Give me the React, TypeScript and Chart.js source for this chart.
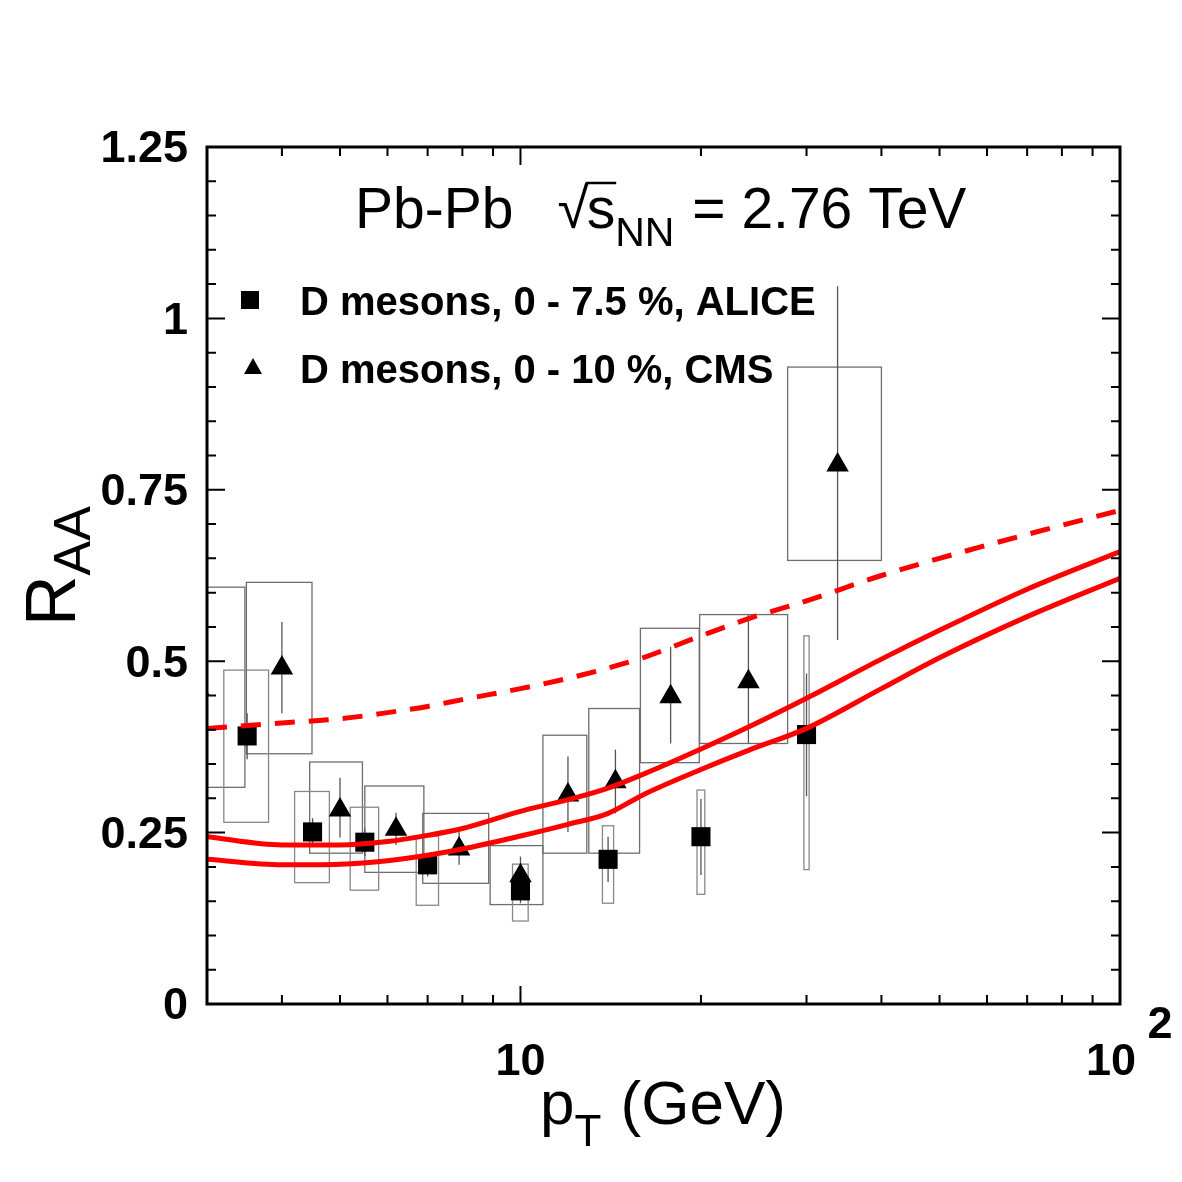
import React, { useEffect, useRef } from "react";
import { Chart, registerables } from "chart.js";

Chart.register(...registerables);

// ALICE D mesons, 0-7.5 %
const aliceX = [3.5, 4.5, 5.5, 7, 10, 14, 20, 30];
const aliceY = [0.391, 0.251, 0.236, 0.203, 0.165, 0.211, 0.244, 0.393];
const aliceStatLo = [0.357, 0.231, 0.216, 0.186, 0.147, 0.178, 0.188, 0.303];
const aliceStatHi = [0.424, 0.271, 0.256, 0.22, 0.183, 0.244, 0.299, 0.482];
const aliceSysLo = [0.265, 0.177, 0.166, 0.144, 0.121, 0.147, 0.16, 0.196];
const aliceSysHi = [0.487, 0.31, 0.287, 0.245, 0.204, 0.26, 0.312, 0.537];
const aliceBoxHalfWidth = 0.3;

// CMS D mesons, 0-10 %
const cmsX = [2.9, 4, 5, 6.2, 7.9, 10, 12, 14.4, 17.8, 24, 33.8];
const cmsY = [0.46, 0.49, 0.283, 0.255, 0.226, 0.187, 0.305, 0.324, 0.448, 0.47, 0.786];
const cmsStatLo = [0.41, 0.424, 0.243, 0.232, 0.203, 0.165, 0.251, 0.278, 0.38, 0.38, 0.531];
const cmsStatHi = [0.51, 0.557, 0.33, 0.279, 0.251, 0.215, 0.361, 0.371, 0.521, 0.568, 1.047];
const cmsSysLo = [0.316, 0.365, 0.22, 0.192, 0.176, 0.145, 0.22, 0.22, 0.352, 0.38, 0.647];
const cmsSysHi = [0.608, 0.615, 0.353, 0.318, 0.278, 0.231, 0.392, 0.431, 0.548, 0.568, 0.929];
const cmsBoxLo = [2.5, 3.49, 4.45, 5.5, 6.87, 8.9, 10.9, 13.0, 15.85, 19.9, 27.9];
const cmsBoxHi = [3.47, 4.49, 5.45, 6.9, 8.85, 10.9, 12.9, 15.8, 19.87, 27.9, 40.0];

// Model curves
const curvePt = [3, 4, 5, 6, 7, 8, 10, 12, 14, 16, 20, 24, 30, 40, 50, 70, 100];
const curveDashed = [0.402, 0.41, 0.416, 0.425, 0.434, 0.444, 0.46, 0.475, 0.49, 0.505, 0.537, 0.562, 0.588, 0.625, 0.65, 0.685, 0.72];
const curveUpper = [0.244, 0.232, 0.232, 0.237, 0.246, 0.256, 0.281, 0.298, 0.315, 0.335, 0.372, 0.404, 0.446, 0.503, 0.545, 0.605, 0.66];
const curveLower = [0.211, 0.203, 0.204, 0.209, 0.217, 0.226, 0.245, 0.262, 0.278, 0.305, 0.342, 0.37, 0.402, 0.46, 0.505, 0.565, 0.621];

// Axes
const xMin = 3;
const xMax = 100;
const yMin = 0;
const yMax = 1.25;
const xMajorTicks = [10, 100];
const xMinorTicks = [4, 5, 6, 7, 8, 9, 20, 30, 40, 50, 60, 70, 80, 90];
const yMajorTicks = [0, 0.25, 0.5, 0.75, 1, 1.25];
const yMinorTicks = [
  0.05, 0.1, 0.15, 0.2, 0.3, 0.35, 0.4, 0.45, 0.55, 0.6, 0.65, 0.7,
  0.8, 0.85, 0.9, 0.95, 1.05, 1.1, 1.15, 1.2,
];
const yTickLabels = ["0", "0.25", "0.5", "0.75", "1", "1.25"];

const legendLabels = ["D mesons, 0 - 7.5 %, ALICE", "D mesons, 0 - 10 %, CMS"];

const FONT = "'Liberation Sans', Arial, Helvetica, sans-serif";

function text(
  ctx: CanvasRenderingContext2D,
  s: string,
  x: number,
  y: number,
  size: number,
  bold: boolean,
  align: "left" | "right" | "center" = "left",
  baseline: CanvasTextBaseline = "alphabetic"
): number {
  ctx.save();
  ctx.font = `${bold ? "bold " : ""}${size}px ${FONT}`;
  ctx.textBaseline = baseline;
  ctx.textAlign = align;
  ctx.fillStyle = "#000";
  ctx.fillText(s, x, y);
  const w = ctx.measureText(s).width;
  ctx.restore();
  return w;
}

const errorPlugin = {
  id: "errorBoxes",
  beforeDatasetsDraw(chart: any) {
    const { ctx, chartArea: a } = chart;
    const xs = chart.scales.x;
    const ys = chart.scales.y;
    ctx.save();
    ctx.beginPath();
    ctx.rect(a.left, a.top, a.right - a.left, a.bottom - a.top);
    ctx.clip();
    const box = (x0: number, x1: number, y0: number, y1: number, color: string) => {
      const px0 = xs.getPixelForValue(x0);
      const px1 = xs.getPixelForValue(x1);
      const py0 = ys.getPixelForValue(y0);
      const py1 = ys.getPixelForValue(y1);
      ctx.strokeStyle = color;
      ctx.lineWidth = 1.3;
      ctx.strokeRect(px0, py1, px1 - px0, py0 - py1);
    };
    const bar = (x: number, y0: number, y1: number) => {
      const px = xs.getPixelForValue(x);
      ctx.strokeStyle = "#555";
      ctx.lineWidth = 1.3;
      ctx.beginPath();
      ctx.moveTo(px, ys.getPixelForValue(y0));
      ctx.lineTo(px, ys.getPixelForValue(y1));
      ctx.stroke();
    };
    cmsX.forEach((x, i) => box(cmsBoxLo[i], cmsBoxHi[i], cmsSysLo[i], cmsSysHi[i], "#6e6e6e"));
    aliceX.forEach((x, i) =>
      box(x - aliceBoxHalfWidth, x + aliceBoxHalfWidth, aliceSysLo[i], aliceSysHi[i], "#888")
    );
    cmsX.forEach((x, i) => bar(x, cmsStatLo[i], cmsStatHi[i]));
    aliceX.forEach((x, i) => bar(x, aliceStatLo[i], aliceStatHi[i]));
    ctx.restore();
  },
};

const framePlugin = {
  id: "frame",
  afterDraw(chart: any) {
    const { ctx, chartArea: a } = chart;
    const xs = chart.scales.x;
    const ys = chart.scales.y;
    ctx.save();
    ctx.strokeStyle = "#000";
    ctx.lineCap = "butt";

    // ticks (inside, on all four sides)
    ctx.lineWidth = 2;
    const xTick = (v: number, len: number) => {
      const px = xs.getPixelForValue(v);
      ctx.beginPath();
      ctx.moveTo(px, a.bottom);
      ctx.lineTo(px, a.bottom - len);
      ctx.moveTo(px, a.top);
      ctx.lineTo(px, a.top + len);
      ctx.stroke();
    };
    const yTick = (v: number, len: number) => {
      const py = ys.getPixelForValue(v);
      ctx.beginPath();
      ctx.moveTo(a.left, py);
      ctx.lineTo(a.left + len, py);
      ctx.moveTo(a.right, py);
      ctx.lineTo(a.right - len, py);
      ctx.stroke();
    };
    xMinorTicks.forEach((v) => xTick(v, 9));
    xMajorTicks.forEach((v) => xTick(v, 18));
    yMinorTicks.forEach((v) => yTick(v, 9));
    yMajorTicks.forEach((v) => yTick(v, 18));

    // frame
    ctx.lineWidth = 3;
    ctx.strokeRect(a.left, a.top, a.right - a.left, a.bottom - a.top);

    // y tick labels
    yMajorTicks.forEach((v, i) => {
      text(ctx, yTickLabels[i], a.left - 19, ys.getPixelForValue(v) + 3, 45, true, "right", "middle");
    });
    // x tick labels
    const p10 = xs.getPixelForValue(xMajorTicks[0]);
    const p100 = xs.getPixelForValue(xMajorTicks[1]);
    text(ctx, "10", p10, a.bottom + 59, 45, true, "center", "middle");
    text(ctx, "10", p100 - 9, a.bottom + 59, 45, true, "center", "middle");
    text(ctx, "2", p100 + 40, a.bottom + 22, 45, true, "center", "middle");

    // x axis title
    let cx = 540 - 8;
    const base = 1124 - 8;
    cx += text(ctx, "p", cx, base, 62, false);
    cx += text(ctx, "T", cx, base + 22, 44, false);
    text(ctx, " (GeV)", cx + 2, base, 62, false);

    // y axis title (rotated)
    ctx.save();
    ctx.translate(75 - 8, 626 - 8);
    ctx.rotate(-Math.PI / 2);
    let ry = 0;
    ry += text(ctx, "R", ry, 0, 70, false);
    text(ctx, "AA", ry, 15, 52, false);
    ctx.restore();

    // header
    let hx = 355 - 8;
    const hb = 228 - 8;
    hx += text(ctx, "Pb-Pb", hx, hb, 57, false);
    hx += 44;
    const sqrtW = text(ctx, "\u221A", hx, hb, 57, false);
    const sStart = hx + sqrtW - 2;
    const sW = text(ctx, "s", sStart, hb, 57, false);
    // radical overbar
    ctx.strokeStyle = "#000";
    ctx.lineWidth = 2.5;
    ctx.beginPath();
    ctx.moveTo(sStart - 1, hb - 45);
    ctx.lineTo(sStart + sW + 1, hb - 45);
    ctx.stroke();
    hx = sStart + sW;
    hx += text(ctx, "NN", hx, hb + 18, 41, false);
    text(ctx, " = 2.76 TeV", hx + 2, hb, 57, false);

    // legend
    const lx = 250 - 8;
    const rows = [300 - 8, 368 - 8];
    ctx.fillStyle = "#000";
    ctx.fillRect(lx - 9, rows[0] - 9, 18, 18);
    ctx.beginPath();
    ctx.moveTo(lx + 3, rows[1] - 10);
    ctx.lineTo(lx + 3 + 9, rows[1] + 6);
    ctx.lineTo(lx + 3 - 9, rows[1] + 6);
    ctx.closePath();
    ctx.fill();
    text(ctx, legendLabels[0], 300 - 8, rows[0] + 15, 40, true);
    text(ctx, legendLabels[1], 300 - 8, rows[1] + 15, 40, true);

    ctx.restore();
  },
};

export default function App() {
  const ref = useRef<HTMLCanvasElement>(null);
  useEffect(() => {
    const canvas = ref.current;
    if (!canvas) return;
    const xy = (xsArr: number[], ysArr: number[]) => xsArr.map((x, i) => ({ x, y: ysArr[i] }));
    const chart = new Chart(canvas, {
      type: "scatter",
      data: {
        datasets: [
          {
            label: "Upper",
            type: "line",
            data: xy(curvePt, curveUpper),
            borderColor: "#ff0000",
            borderWidth: 5,
            pointRadius: 0,
            cubicInterpolationMode: "monotone",
            fill: false,
            order: 0,
          },
          {
            label: "Lower",
            type: "line",
            data: xy(curvePt, curveLower),
            borderColor: "#ff0000",
            borderWidth: 5,
            pointRadius: 0,
            cubicInterpolationMode: "monotone",
            fill: false,
            order: 0,
          },
          {
            label: "Dashed",
            type: "line",
            data: xy(curvePt, curveDashed),
            borderColor: "#ff0000",
            borderWidth: 5,
            borderDash: [20, 14],
            pointRadius: 0,
            cubicInterpolationMode: "monotone",
            fill: false,
            order: 0,
          },
          {
            label: legendLabels[0],
            data: xy(aliceX, aliceY),
            pointStyle: "rect",
            pointRadius: 13.5,
            backgroundColor: "#000",
            borderColor: "#000",
            borderWidth: 0,
            clip: 0,
            order: 1,
          },
          {
            label: legendLabels[1],
            data: xy(cmsX, cmsY),
            pointStyle: "triangle",
            pointRadius: 13,
            backgroundColor: "#000",
            borderColor: "#000",
            borderWidth: 0,
            clip: 0,
            order: 1,
          },
        ],
      } as any,
      options: {
        animation: false,
        responsive: false,
        devicePixelRatio: 1,
        layout: { padding: { left: 199, right: 54, top: 139, bottom: 170 } },
        plugins: { legend: { display: false }, tooltip: { enabled: false } },
        scales: {
          x: { type: "logarithmic", min: xMin, max: xMax, display: false },
          y: { type: "linear", min: yMin, max: yMax, display: false },
        },
      } as any,
      plugins: [errorPlugin, framePlugin],
    });
    return () => chart.destroy();
  }, []);
  return (
    <div style={{ width: 1166, height: 1166 }}>
      <canvas ref={ref} width={1166} height={1166} style={{ display: "block" }} />
    </div>
  );
}
